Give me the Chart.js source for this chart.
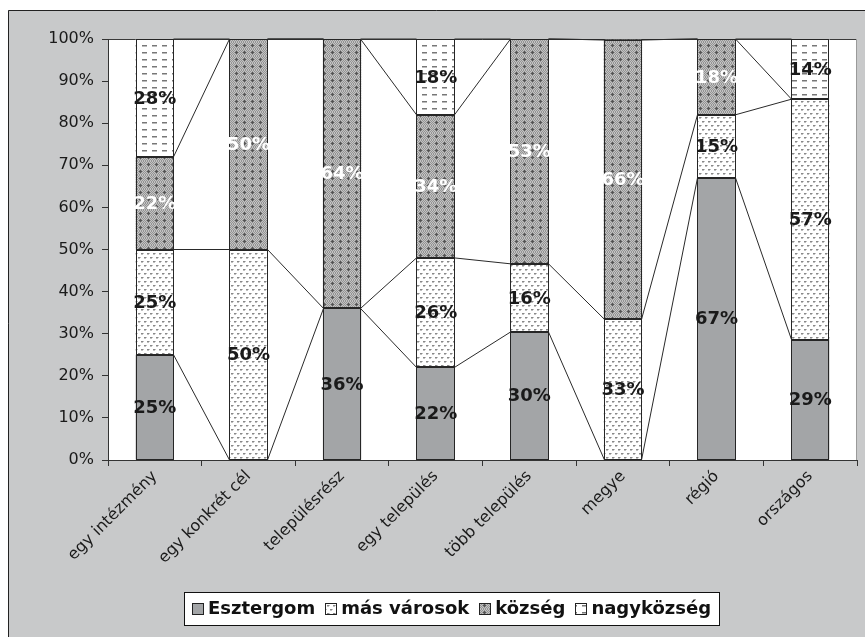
<!DOCTYPE html>
<html>
<head>
<meta charset="utf-8">
<script src="https://cdn.jsdelivr.net/npm/chart.js@4.4.0/dist/chart.umd.min.js"></script>
<style>
  html, body { margin: 0; padding: 0; background: #fff; }
  #wrap { position: relative; width: 865px; height: 637px; }
</style>
</head>
<body>
<div id="wrap"><canvas id="chart" width="865" height="637"></canvas></div>
<script>
// Data (percent shares per target area)
const categories = ['egy intézmény', 'egy konkrét cél', 'településrész', 'egy település', 'több település', 'megye', 'régió', 'országos'];
const seriesNames = ['Esztergom', 'más városok', 'község', 'nagyközség'];
const esztergom  = [25, 0, 36, 22, 30.4, 0, 67, 28.6];
const masVarosok = [25, 50, 0, 26, 16.2, 33.4, 15, 57.1];
const kozseg     = [22, 50, 64, 34, 53.4, 66.4, 18, 0];
const nagykozseg = [28, 0, 0, 18, 0, 0, 0, 14.3];
const yTicks = [0, 10, 20, 30, 40, 50, 60, 70, 80, 90, 100];

const seriesData = [esztergom, masVarosok, kozseg, nagykozseg];
const labelColors = ['#1a1a1a', '#1a1a1a', '#ffffff', '#1a1a1a'];
const FONT = '"DejaVu Sans", Verdana, sans-serif';

// --- fill patterns, excel style ---
function tile(w, h, draw) {
  const c = document.createElement('canvas');
  c.width = w; c.height = h;
  const t = c.getContext('2d');
  draw(t);
  return document.getElementById('chart').getContext('2d').createPattern(c, 'repeat');
}

const patterns = [
  '#a3a5a7',
  // más városok: small staggered dashes
  tile(6, 8, t => {
    t.fillStyle = '#fff'; t.fillRect(0, 0, 6, 8);
    t.fillStyle = '#888';
    t.fillRect(0, 1, 2, 1); t.fillRect(3, 5, 2, 1);
    t.fillStyle = '#c2c2c2';
    t.fillRect(2, 1, 1, 1); t.fillRect(5, 5, 1, 1);
    t.fillRect(0, 2, 2, 1); t.fillRect(3, 6, 2, 1);
  }),
  // község: fine checker with plus marks
  tile(8, 7, t => {
    for (let y = 0; y < 7; y++) for (let x = 0; x < 8; x++) {
      t.fillStyle = (x + y) % 2 ? '#939393' : '#c3c3c3';
      t.fillRect(x, y, 1, 1);
    }
    t.fillStyle = '#555';
    t.fillRect(3, 3, 3, 1); t.fillRect(4, 2, 1, 3);
  }),
  // nagyközség: horizontal dashes
  tile(10, 7, t => {
    t.fillStyle = '#fff'; t.fillRect(0, 0, 10, 7);
    t.fillStyle = '#777'; t.fillRect(2, 3, 5, 1);
    t.fillStyle = '#bbb'; t.fillRect(2, 4, 5, 1);
  })
];

const framePlugin = {
  id: 'frame',
  beforeDraw(chart) {
    const { ctx, chartArea: a } = chart;
    ctx.save();
    ctx.fillStyle = '#fff';
    ctx.fillRect(0, 0, chart.width, chart.height);
    ctx.fillStyle = '#c8c9ca';
    ctx.fillRect(8, 10, chart.width, chart.height);
    ctx.strokeStyle = '#222';
    ctx.lineWidth = 1;
    ctx.beginPath();
    ctx.moveTo(8.5, chart.height); ctx.lineTo(8.5, 10.5); ctx.lineTo(chart.width, 10.5);
    ctx.stroke();
    ctx.fillStyle = '#fff';
    ctx.fillRect(a.left, a.top, a.right - a.left, a.bottom - a.top);
    ctx.strokeStyle = '#3a3a3a';
    ctx.beginPath(); ctx.moveTo(a.left, a.top + 0.5); ctx.lineTo(a.right, a.top + 0.5); ctx.stroke();
    ctx.strokeStyle = '#9a9a9a';
    ctx.beginPath(); ctx.moveTo(a.right - 0.5, a.top); ctx.lineTo(a.right - 0.5, a.bottom); ctx.stroke();
    ctx.restore();
  }
};

// crisp bar outlines + series lines between neighbouring bars
const seriesLinesPlugin = {
  id: 'seriesLines',
  afterDatasetsDraw(chart) {
    const { ctx, scales: { x, y } } = chart;
    ctx.save();
    ctx.strokeStyle = '#262626';
    ctx.lineWidth = 1;
    seriesData.forEach((vals, d) => {
      const meta = chart.getDatasetMeta(d);
      vals.forEach((v, i) => {
        if (v <= 0) return;
        const el = meta.data[i].getProps(['x', 'y', 'base', 'width'], true);
        const l = Math.round(el.x - el.width / 2), r = Math.round(el.x + el.width / 2);
        const t = Math.round(el.y), b = Math.round(el.base);
        ctx.strokeRect(l + 0.5, t + 0.5, r - l - 1, b - t - 1);
      });
    });

    const cum = categories.map(() => 0);
    ctx.strokeStyle = '#2a2a2a';
    seriesData.forEach((vals, d) => {
      const meta = chart.getDatasetMeta(d);
      const tops = vals.map((v, i) => Math.min(100, cum[i] += v));
      ctx.beginPath();
      for (let i = 0; i < categories.length - 1; i++) {
        const w = meta.data[i].width;
        ctx.moveTo(Math.round(x.getPixelForValue(i) + w / 2) - 0.5, y.getPixelForValue(tops[i]));
        ctx.lineTo(Math.round(x.getPixelForValue(i + 1) - w / 2) + 0.5, y.getPixelForValue(tops[i + 1]));
      }
      ctx.stroke();
    });
    ctx.restore();
  }
};

const valueLabelsPlugin = {
  id: 'valueLabels',
  afterDatasetsDraw(chart) {
    const { ctx } = chart;
    ctx.save();
    ctx.font = 'bold 18px ' + FONT;
    ctx.textAlign = 'center';
    ctx.textBaseline = 'middle';
    seriesData.forEach((vals, d) => {
      const meta = chart.getDatasetMeta(d);
      ctx.fillStyle = labelColors[d];
      vals.forEach((v, i) => {
        if (v <= 0) return;
        const { x, y, base } = meta.data[i].getProps(['x', 'y', 'base'], true);
        ctx.fillText(Math.round(v) + '%', x, (y + base) / 2 + 1);
      });
    });
    ctx.restore();
  }
};

const legendPlugin = {
  id: 'boxLegend',
  afterDraw(chart) {
    const { ctx } = chart;
    const sw = 12, gapSw = 4, gapItem = 10, pad = 8;
    const top = 592, h = 33, cx = 451;
    ctx.save();
    ctx.font = 'bold 18px ' + FONT;
    const widths = seriesNames.map(s => ctx.measureText(s).width);
    const total = Math.round(widths.reduce((a, b) => a + b, 0) + seriesNames.length * (sw + gapSw) + (seriesNames.length - 1) * gapItem + pad * 2);
    const left = Math.round(cx - total / 2);
    ctx.fillStyle = '#fff';
    ctx.fillRect(left, top, total, h);
    ctx.strokeStyle = '#111';
    ctx.lineWidth = 1;
    ctx.strokeRect(left + 0.5, top + 0.5, total, h);
    let xPos = left + pad;
    const mid = top + h / 2;
    seriesNames.forEach((name, i) => {
      const sx = Math.round(xPos), sy = Math.round(mid - sw / 2);
      ctx.fillStyle = patterns[i];
      ctx.fillRect(sx, sy, sw, sw);
      ctx.strokeStyle = '#222';
      ctx.strokeRect(sx + 0.5, sy + 0.5, sw - 1, sw - 1);
      xPos += sw + gapSw;
      ctx.fillStyle = '#111';
      ctx.textAlign = 'left';
      ctx.textBaseline = 'middle';
      ctx.fillText(name, xPos, mid + 1);
      xPos += widths[i] + gapItem;
    });
    ctx.restore();
  }
};

new Chart(document.getElementById('chart'), {
  type: 'bar',
  data: {
    labels: categories,
    datasets: seriesData.map((vals, i) => ({
      label: seriesNames[i],
      data: vals,
      backgroundColor: patterns[i],
      borderWidth: 0,
      categoryPercentage: 1,
      barPercentage: 0.41
    }))
  },
  options: {
    responsive: false,
    animation: false,
    devicePixelRatio: 1,
    layout: { padding: { left: 8, right: 8, top: 39, bottom: 0 } },
    plugins: {
      legend: { display: false },
      tooltip: { enabled: false }
    },
    scales: {
      x: {
        stacked: true,
        afterFit: s => { s.height = 177; },
        grid: { display: true, drawOnChartArea: false, drawTicks: true, tickLength: 6, color: '#333', offset: true },
        border: { display: true, color: '#333', width: 1 },
        ticks: {
          autoSkip: false,
          minRotation: 45,
          maxRotation: 45,
          padding: 1,
          color: '#1a1a1a',
          font: { family: FONT, size: 16 }
        }
      },
      y: {
        stacked: true,
        min: 0,
        max: 100,
        afterFit: s => { s.width = 100; },
        afterBuildTicks: s => { s.ticks = yTicks.map(v => ({ value: v })); },
        grid: { display: true, drawOnChartArea: false, drawTicks: true, tickLength: 6, color: '#333' },
        border: { display: true, color: '#333', width: 1 },
        ticks: {
          padding: 8,
          color: '#1a1a1a',
          font: { family: FONT, size: 16 },
          callback: v => v + '%'
        }
      }
    }
  },
  plugins: [framePlugin, seriesLinesPlugin, valueLabelsPlugin, legendPlugin]
});
</script>
</body>
</html>
